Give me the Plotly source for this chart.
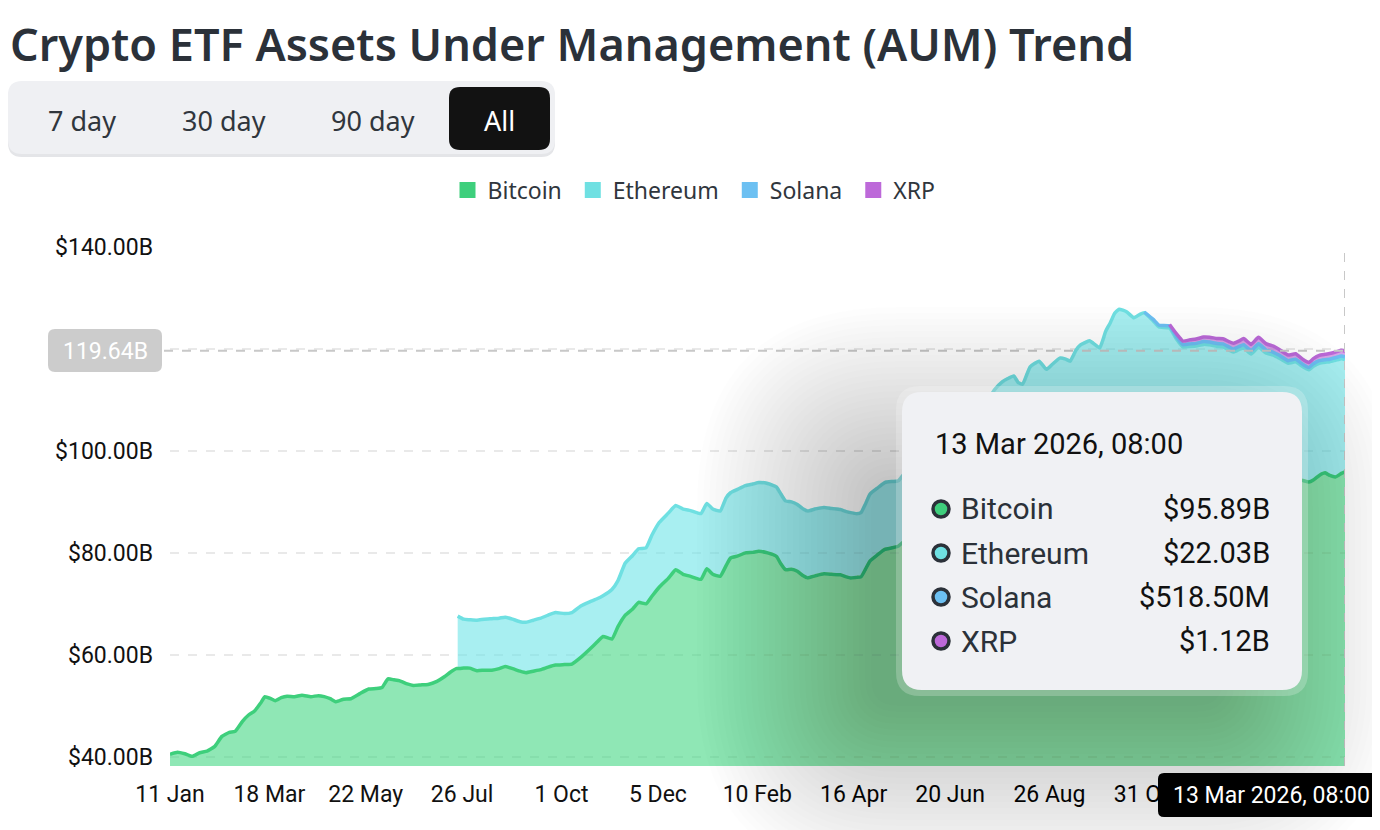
import pandas as pd
import plotly.graph_objects as go

# ---- data ($B) ----
dates = [
    '2024-01-11', '2024-01-16', '2024-01-21', '2024-01-26', '2024-01-31', '2024-02-05', '2024-02-10',
    '2024-02-15', '2024-02-20', '2024-02-24', '2024-02-29', '2024-03-04', '2024-03-08', '2024-03-12',
    '2024-03-15', '2024-03-19', '2024-03-22', '2024-03-26', '2024-03-30', '2024-04-04', '2024-04-09',
    '2024-04-15', '2024-04-20', '2024-04-24', '2024-04-28', '2024-05-02', '2024-05-07', '2024-05-12',
    '2024-05-18', '2024-05-24', '2024-05-29', '2024-06-02', '2024-06-06', '2024-06-10', '2024-06-14',
    '2024-06-19', '2024-06-23', '2024-06-28', '2024-07-03', '2024-07-09', '2024-07-14', '2024-07-18',
    '2024-07-22',
    # ethereum ETFs from here
    '2024-07-23', '2024-07-27', '2024-07-31', '2024-08-05', '2024-08-10', '2024-08-15', '2024-08-20',
    '2024-08-24', '2024-08-29', '2024-09-03', '2024-09-07', '2024-09-12', '2024-09-17', '2024-09-22',
    '2024-09-27', '2024-10-03', '2024-10-08', '2024-10-14', '2024-10-20', '2024-10-25', '2024-10-29',
    '2024-11-04', '2024-11-08', '2024-11-13', '2024-11-18', '2024-11-22', '2024-11-27', '2024-12-01',
    '2024-12-06', '2024-12-12', '2024-12-17', '2024-12-22', '2024-12-27', '2025-01-03', '2025-01-07',
    '2025-01-11', '2025-01-16', '2025-01-20', '2025-01-23', '2025-01-28', '2025-02-02', '2025-02-07',
    '2025-02-11', '2025-02-17', '2025-02-23', '2025-02-26', '2025-03-01', '2025-03-05', '2025-03-09',
    '2025-03-13', '2025-03-16', '2025-03-21', '2025-03-27', '2025-04-01', '2025-04-07', '2025-04-11',
    '2025-04-14', '2025-04-18', '2025-04-21', '2025-04-24', '2025-04-27', '2025-05-02', '2025-05-07',
    '2025-05-12', '2025-05-16', '2025-05-23', '2025-06-01', '2025-06-09', '2025-06-16', '2025-06-23',
    '2025-06-30', '2025-07-07', '2025-07-13', '2025-07-17', '2025-07-20', '2025-07-25', '2025-07-29',
    '2025-08-02', '2025-08-05', '2025-08-08', '2025-08-13', '2025-08-19', '2025-08-24', '2025-08-28',
    '2025-09-02', '2025-09-06', '2025-09-09', '2025-09-13', '2025-09-16', '2025-09-22', '2025-09-26',
    '2025-09-29', '2025-10-03', '2025-10-06', '2025-10-09', '2025-10-12', '2025-10-17', '2025-10-22',
    '2025-10-26',
    # solana ETFs from here
    '2025-10-29', '2025-11-04', '2025-11-08',
    # xrp ETFs from here
    '2025-11-15', '2025-11-20', '2025-11-24', '2025-11-29', '2025-12-03', '2025-12-08', '2025-12-12',
    '2025-12-17', '2025-12-21', '2025-12-25', '2025-12-28', '2026-01-01', '2026-01-04', '2026-01-09',
    '2026-01-14', '2026-01-19', '2026-01-24', '2026-01-28', '2026-02-03', '2026-02-08', '2026-02-13',
    '2026-02-17', '2026-02-20', '2026-02-24', '2026-02-28', '2026-03-03', '2026-03-07', '2026-03-11',
    '2026-03-13 08:00',
]

bitcoin = [
    40.5, 40.9, 40.6, 40.1, 40.8, 41.1, 42.0, 44.0, 44.8, 45.0, 47.0, 48.2, 49.0, 50.5,
    51.8, 51.4, 51.0, 51.6, 51.9, 51.8, 52.1, 51.8, 52.0, 51.8, 51.4, 50.8, 51.3, 51.4,
    52.4, 53.3, 53.4, 53.6, 55.3, 55.1, 54.9, 54.3, 54.0, 54.1, 54.2, 54.8, 55.7, 56.6,
    57.3,
    57.3, 57.4, 57.4, 56.9, 57.0, 57.0, 57.3, 57.7, 57.3, 56.8, 56.5, 56.8, 57.1, 57.6,
    58.0, 58.1, 58.2, 59.5, 61.1, 62.5, 63.6, 63.1, 65.5, 67.8, 69.0, 70.3, 70.0, 71.5,
    73.3, 75.0, 76.7, 75.8, 75.4, 74.8, 76.9, 75.8, 75.4, 77.5, 79.0, 79.4, 80.0, 80.1,
    80.3, 80.0, 79.3, 77.8, 76.7, 76.8, 76.4, 75.5, 75.1, 75.5, 75.9, 75.8, 75.7, 75.3,
    75.1, 75.2, 75.3, 76.8, 78.4, 79.6, 80.7, 81.0, 81.3, 83.0, 83.5, 84.5, 84.0, 83.0,
    85.0, 86.5, 90.0, 91.0, 91.0, 91.5, 91.2, 90.5, 89.5, 89.5, 91.5, 91.0, 90.0, 90.5,
    91.0, 91.0, 90.5, 92.0, 92.5, 93.0, 92.5, 92.5, 95.0, 96.5, 98.0, 98.5, 98.0, 97.5,
    98.0,
    98.2, 97.0, 96.5,
    96.5, 95.0, 94.0, 94.0, 94.0, 94.3, 94.2, 94.0, 93.8, 93.3, 93.0, 93.4, 93.6, 93.2,
    94.0, 93.5, 93.6, 93.8, 94.0, 94.5, 94.2, 93.9, 94.3, 95.2, 95.7, 95.2, 94.9, 95.6,
    95.89,
]

ETH_LAUNCH = '2024-07-23'
ethereum = [
    10.3, 9.6, 9.5, 9.9, 10.0, 10.1, 9.9, 9.7, 9.7, 9.7, 9.9, 10.0, 10.1, 10.2,
    10.3, 10.0, 10.1, 10.1, 9.3, 8.5, 8.0, 9.7, 9.0, 10.2, 10.5, 10.5, 11.0, 12.0,
    12.7, 12.8, 12.6, 12.8, 12.9, 12.9, 12.8, 12.8, 12.8, 13.3, 12.8, 13.1, 13.2, 13.4,
    13.5, 13.6, 13.6, 13.7, 13.5, 13.2, 13.1, 13.1, 13.1, 13.1, 13.0, 12.9, 12.8, 12.8,
    12.8, 12.5, 12.6, 12.8, 13.1, 13.1, 13.1, 13.0, 12.8, 13.5, 13.5, 14.0, 14.0, 14.0,
    15.0, 16.5, 18.0, 19.5, 21.0, 22.0, 23.0, 24.2, 23.9, 23.6, 25.0, 26.6, 26.0, 26.5,
    27.2, 27.0, 27.1, 27.8, 28.3, 28.6, 28.3, 27.7, 28.5, 28.6, 29.0, 29.3, 29.3, 28.6,
    28.8,
    28.9, 28.5, 27.8,
    27.6, 26.8, 26.4, 26.5, 26.6, 26.6, 26.6, 26.5, 26.6, 26.5, 26.4, 26.5, 26.6, 25.8,
    26.4, 25.7, 25.2, 24.4, 23.2, 23.0, 22.3, 22.0, 22.3, 22.0, 21.7, 22.3, 22.9, 22.5,
    22.03,
]

SOL_LAUNCH = '2025-10-29'
solana = [
    0.15, 0.30, 0.35,
    0.40, 0.45, 0.45, 0.50, 0.50, 0.55, 0.55, 0.55, 0.60, 0.60, 0.60, 0.60, 0.65, 0.65,
    0.60, 0.60, 0.55, 0.55, 0.50, 0.50, 0.45, 0.45, 0.50, 0.50, 0.50, 0.50, 0.50, 0.52,
    0.5185,
]

XRP_LAUNCH = '2025-11-15'
xrp = [
    0.30, 0.60, 0.70, 0.80, 0.85, 0.90, 0.95, 1.00, 1.00, 1.05, 1.10, 1.10, 1.20, 1.25,
    1.30, 1.25, 1.20, 1.15, 1.10, 1.05, 1.00, 1.00, 1.00, 1.05, 1.05, 1.10, 1.10, 1.12,
    1.12,
]

names = ['Bitcoin', 'Ethereum', 'Solana', 'XRP']
line_colors = ['#3ecf7c', '#6fe0e2', '#6cc0f2', '#bd69d9']
fill_colors = ['rgba(62,214,128,0.58)', 'rgba(110,228,232,0.6)', 'rgba(108,192,242,0.6)', 'rgba(189,105,217,0.6)']

x_tick_dates = ['2024-01-11', '2024-03-18', '2024-05-22', '2024-07-26', '2024-10-01', '2024-12-05',
                '2025-02-10', '2025-04-16', '2025-06-20', '2025-08-26', '2025-10-31']
y_tick_vals = [40, 60, 80, 100, 120, 140]
y_tick_text = ['$40.00B', '$60.00B', '$80.00B', '$100.00B', '', '$140.00B']

hover_label = '13 Mar 2026, 08:00'
hover_values = ['$95.89B', '$22.03B', '$518.50M', '$1.12B']
crosshair_total = 119.64
range_buttons = ['7 day', '30 day', '90 day', 'All']

# ---- stacking ----
df = pd.DataFrame({'date': pd.to_datetime(dates, format='ISO8601'), 'btc': bitcoin})
df['eth'] = None
df['sol'] = None
df['xrp'] = None
i_eth, i_sol, i_xrp = dates.index(ETH_LAUNCH), dates.index(SOL_LAUNCH), dates.index(XRP_LAUNCH)
df.loc[i_eth:, 'eth'] = ethereum
df.loc[i_sol:, 'sol'] = solana
df.loc[i_xrp:, 'xrp'] = xrp
df[['eth', 'sol', 'xrp']] = df[['eth', 'sol', 'xrp']].astype(float)

levels = [df['btc']]
for col in ['eth', 'sol', 'xrp']:
    levels.append(levels[-1] + df[col].fillna(0))
starts = [0, i_eth, i_sol, i_xrp]

fig = go.Figure()

# fills first
fig.add_scatter(x=df['date'], y=levels[0], mode='lines', line=dict(width=0),
                fill='tozeroy', fillcolor=fill_colors[0], showlegend=False, hoverinfo='skip')
for k in range(1, 4):
    seg = slice(starts[k], None)
    fig.add_scatter(x=df['date'][seg], y=levels[k - 1][seg], mode='lines', line=dict(width=0),
                    showlegend=False, hoverinfo='skip')
    fig.add_scatter(x=df['date'][seg], y=levels[k][seg], mode='lines', line=dict(width=0),
                    fill='tonexty', fillcolor=fill_colors[k], showlegend=False, hoverinfo='skip')

# then the lines
for k in range(4):
    seg = slice(starts[k], None)
    fig.add_scatter(x=df['date'][seg], y=levels[k][seg], mode='lines',
                    line=dict(color=line_colors[k], width=3.5, shape='spline', smoothing=0.4),
                    showlegend=False, hoverinfo='skip')

# legend entries (square swatches)
for n, c in zip(names, line_colors):
    fig.add_scatter(x=[None], y=[None], mode='markers', name=n + '\u00a0',
                    marker=dict(symbol='square', size=20, color=c))

# ---- pixel helpers for the decorations (reference screen pixels) ----
OFF = 8  # page body margin
FW, FH = 1380 - OFF, 830 - OFF
L, R, T, B = 170, 1345, 247, 766


def px(x):
    return (x - L) / (R - L)


def py(y):
    return (B - y) / (B - T)


def rounded(x0, y0, x1, y1, r, fill, layer='above', line=None):
    a, b = x0 - L, x1 - L
    top, bot = B - y0, B - y1
    path = (f'M{a + r},{top} L{b - r},{top} Q{b},{top} {b},{top - r} L{b},{bot + r} Q{b},{bot} {b - r},{bot} '
            f'L{a + r},{bot} Q{a},{bot} {a},{bot + r} L{a},{top - r} Q{a},{top} {a + r},{top} Z')
    return dict(type='path', path=path, xref='paper', yref='paper', xsizemode='pixel', ysizemode='pixel',
                xanchor=0, yanchor=0, fillcolor=fill, line=line or dict(width=0), layer=layer)


shapes = []
# crosshair
shapes.append(dict(type='line', xref='paper', yref='y', x0=px(164), x1=1, y0=crosshair_total, y1=crosshair_total,
                   line=dict(color='#c8c8c8', width=2, dash='dash'), layer='above'))
shapes.append(dict(type='line', xref='x', yref='paper', x0=df['date'].iloc[-1], x1=df['date'].iloc[-1], y0=0, y1=1,
                   line=dict(color='#c8c8c8', width=2, dash='dash'), layer='above'))

# tooltip shadow (soft, pushed down-left)
tx0, ty0, tx1, ty1 = 902, 392, 1302, 690
bx0, by0, bx1, by1 = tx0 - 25, ty0 + 95, tx1 - 85, ty1 + 10
for s in range(30):
    e = 6 * (s + 1)
    shapes.append(rounded(bx0 - e, by0 - e, bx1 + e, by1 + e, 20 + e, 'rgba(0,0,0,0.0095)'))
shapes.append(rounded(tx0 - 6, ty0 - 6, tx1 + 6, ty1 + 6, 24, 'rgba(255,255,255,0.22)'))
shapes.append(rounded(tx0, ty0, tx1, ty1, 20, '#f0f1f4'))

# hover markers
row_y = [509, 553, 597, 641]
for yy, c in zip(row_y, line_colors):
    shapes.append(dict(type='circle', xref='paper', yref='paper', xsizemode='pixel', ysizemode='pixel',
                       xanchor=px(941), yanchor=py(yy), x0=-8, x1=8, y0=-8, y1=8,
                       fillcolor=c, line=dict(color='#2b3139', width=3.5), layer='above'))

# y label for crosshair and x label for hovered date
shapes.append(rounded(48, 329, 162, 372, 7, '#cccccc'))
shapes.append(rounded(1158, 773, 1386, 817, 6, '#000000'))

# range buttons
shapes.append(rounded(8, 84, 555, 157, 14, '#e4e5e8'))
shapes.append(rounded(8, 81, 555, 154, 14, '#eff0f3'))
shapes.append(rounded(449, 87, 550, 150, 11, '#121212'))

ann = []
text_font = 'Roboto'
ann.append(dict(x=px(933), y=py(444), text=hover_label, xanchor='left', font=dict(size=29, color='#111')))
for yy, n, v in zip(row_y, names, hover_values):
    ann.append(dict(x=px(959), y=py(yy), text=n, xanchor='left', font=dict(size=30, color='#2b3139')))
    ann.append(dict(x=px(1272), y=py(yy), text=v, xanchor='right', font=dict(size=29, color='#111')))
ann.append(dict(x=px(105), y=py(351), text=f'{crosshair_total:.2f}B', xanchor='center',
                font=dict(size=23, color='#ffffff')))
ann.append(dict(x=px(1271), y=py(795), text=hover_label, xanchor='center', font=dict(size=23, color='#ffffff')))
for cx, t in zip([82, 224, 373, 499], range_buttons):
    ann.append(dict(x=px(cx), y=py(120), text=t, xanchor='center',
                    font=dict(family='Noto Sans', size=27, color='#ffffff' if t == 'All' else '#30363d')))
for a in ann:
    a.update(xref='paper', yref='paper', yanchor='middle', showarrow=False)
    a['font'].setdefault('family', text_font)

fig.update_layout(
    width=FW, height=FH,
    margin=dict(l=L - OFF, r=1380 - R, t=T - OFF, b=830 - B),
    paper_bgcolor='white', plot_bgcolor='white',
    title=dict(text='Crypto ETF Assets Under Management (AUM) Trend', xref='container', yref='container',
               x=(10 - OFF) / FW, xanchor='left', y=1 - (45 - OFF) / FH, yanchor='middle',
               font=dict(family='Noto Sans', size=45, color='#2b3139', weight=600)),
    legend=dict(orientation='h', traceorder='normal', x=px(697), xanchor='center', y=py(190), yanchor='middle',
                font=dict(family='Noto Sans', size=23, color='#30363d'), itemwidth=30,
                bgcolor='rgba(0,0,0,0)'),
    hovermode=False,
    shapes=shapes,
    annotations=ann,
    xaxis=dict(type='date', range=[df['date'].iloc[0], df['date'].iloc[-1]], tickvals=x_tick_dates,
               tickformat='%-d %b', showgrid=False, zeroline=False, showline=False, ticks='',
               ticklabelstandoff=12, tickfont=dict(family=text_font, size=23, color='#111')),
    yaxis=dict(range=[38.2, 140], tickvals=y_tick_vals, ticktext=y_tick_text, showgrid=True,
               gridcolor='#e9e9e9', griddash='dash', gridwidth=1.5, zeroline=False, showline=False,
               ticks='', ticklabelstandoff=16, tickfont=dict(family=text_font, size=23, color='#111')),
)

fig.write_html('out.html', config={'displayModeBar': False})
